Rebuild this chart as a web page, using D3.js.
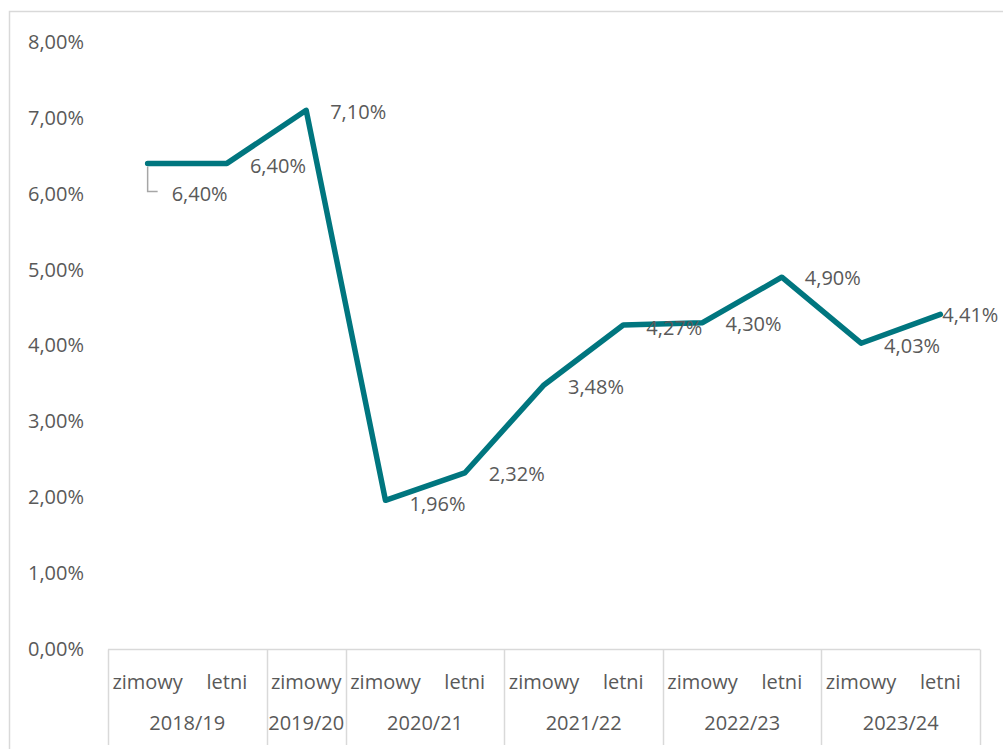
<!DOCTYPE html>
<html>
<head>
<meta charset="utf-8">
<script src="https://cdn.jsdelivr.net/npm/d3@7"></script>
<style>
  html, body { margin: 0; padding: 0; background: #fff; }
  svg { display: block; }
  text { font-family: "Open Sans", sans-serif; fill: #595959; }
</style>
</head>
<body>
<svg id="chart" width="1003" height="749"></svg>
<script>
// ---- data ----
const semesters = ["zimowy", "letni", "zimowy", "zimowy", "letni", "zimowy", "letni", "zimowy", "letni", "zimowy", "letni"];
const years = ["2018/19", "2018/19", "2019/20", "2020/21", "2020/21", "2021/22", "2021/22", "2022/23", "2022/23", "2023/24", "2023/24"];
const values = [6.40, 6.40, 7.10, 1.96, 2.32, 3.48, 4.27, 4.30, 4.90, 4.03, 4.41];
const yTicks = [0, 1, 2, 3, 4, 5, 6, 7, 8];

// label placement offsets (dx from point, dy from point), styling only
const labelOffsets = [[24, 31], [23, 3], [24, 2], [24, 4], [24, 1], [24, 2], [23, 3], [23, 1], [23, 1], [23, 3], [2, 1]];

const FS = 20;
const svg = d3.select("#chart");
const plot = { left: 108, right: 980, top: 42, bottom: 649 };

// chart border (cropped on right/bottom)
svg.append("rect")
  .attr("x", 9.5).attr("y", 11.5)
  .attr("width", 1100).attr("height", 800)
  .attr("fill", "none").attr("stroke", "#d9d9d9").attr("stroke-width", 1.5);

const idx = d3.range(values.length);
const x = d3.scaleBand().domain(idx).range([plot.left, plot.right]).paddingInner(0).paddingOuter(0);
const y = d3.scaleLinear().domain([0, 8]).range([plot.bottom, plot.top]);

const fmt = v => d3.format(".2f")(v).replace(".", ",") + "%";

// y axis labels (no axis line)
const yAxis = d3.axisLeft(y).tickValues(yTicks).tickFormat(fmt).tickSize(0).tickPadding(0);
const gy = svg.append("g").attr("transform", "translate(84,0)").call(yAxis);
gy.select(".domain").remove();
gy.selectAll("text").attr("font-size", FS).attr("font-family", "Open Sans, sans-serif").attr("fill", "#595959");

// category axis: horizontal line + group dividers
const axisY = y(0) + 0.5;
svg.append("line")
  .attr("x1", plot.left).attr("x2", plot.right)
  .attr("y1", axisY).attr("y2", axisY)
  .attr("stroke", "#d9d9d9").attr("stroke-width", 1.5);

// group years
const groups = [];
years.forEach((yr, i) => {
  const g = groups[groups.length - 1];
  if (g && g.year === yr) g.end = i; else groups.push({ year: yr, start: i, end: i });
});
const boundaries = [x(0)].concat(groups.map(g => x(g.end) + x.bandwidth()));
svg.selectAll("line.div").data(boundaries).enter().append("line")
  .attr("class", "div")
  .attr("x1", d => Math.round(d) + 0.5).attr("x2", d => Math.round(d) + 0.5)
  .attr("y1", axisY).attr("y2", 745)
  .attr("stroke", "#d9d9d9").attr("stroke-width", 1.5);

// semester labels
const xAxis = d3.axisBottom(x).tickFormat(i => semesters[i]).tickSize(0).tickPadding(0);
const gx = svg.append("g").attr("transform", `translate(0,${axisY + 24})`).call(xAxis);
gx.select(".domain").remove();
gx.selectAll("text").attr("font-size", FS).attr("font-family", "Open Sans, sans-serif").attr("fill", "#595959").attr("dy", "0.35em").attr("y", 8);

// year labels
svg.selectAll("text.year").data(groups).enter().append("text")
  .attr("class", "year")
  .attr("x", g => (x(g.start) + x(g.end) + x.bandwidth()) / 2)
  .attr("y", 723)
  .attr("dy", "0.35em")
  .attr("text-anchor", "middle")
  .attr("font-size", FS)
  .text(g => g.year);

// line
const cx = i => x(i) + x.bandwidth() / 2;
const line = d3.line().x((d, i) => cx(i)).y(d => y(d));
svg.append("path")
  .datum(values)
  .attr("d", line)
  .attr("fill", "none")
  .attr("stroke", "#00767f")
  .attr("stroke-width", 5.5)
  .attr("stroke-linejoin", "round")
  .attr("stroke-linecap", "round");

// leader line for first label
const lx = cx(0), ly = y(values[0]);
svg.append("path")
  .attr("d", `M${lx},${ly + 3} V${ly + labelOffsets[0][1] - 3} H${lx + 10}`)
  .attr("fill", "none").attr("stroke", "#a6a6a6").attr("stroke-width", 1.5);

// data labels
svg.selectAll("text.lbl").data(values).enter().append("text")
  .attr("class", "lbl")
  .attr("x", (d, i) => cx(i) + labelOffsets[i][0])
  .attr("y", (d, i) => y(d) + labelOffsets[i][1])
  .attr("dy", "0.35em")
  .attr("font-size", FS)
  .text(d => fmt(d));
</script>
</body>
</html>
